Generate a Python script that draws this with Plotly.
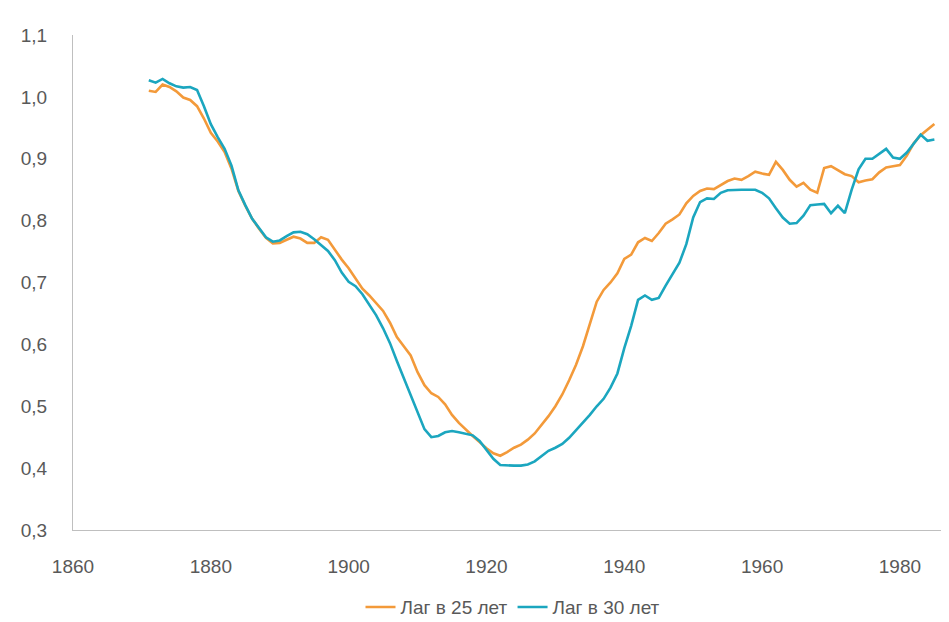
import plotly.graph_objects as go

years = list(range(1871, 1986))

lag25 = [
    1.010, 1.008, 1.020, 1.016, 1.009, 0.999, 0.995, 0.985, 0.965, 0.942,  # 1871-1880
    0.928, 0.911, 0.884, 0.848, 0.824, 0.803, 0.787, 0.772, 0.763, 0.764,  # 1881-1890
    0.769, 0.774, 0.771, 0.764, 0.764, 0.773, 0.769, 0.752, 0.737, 0.723,  # 1891-1900
    0.707, 0.690, 0.679, 0.667, 0.654, 0.635, 0.612, 0.597, 0.582, 0.555,  # 1901-1910
    0.534, 0.521, 0.515, 0.503, 0.486, 0.473, 0.462, 0.452, 0.442, 0.432,  # 1911-1920
    0.424, 0.420, 0.426, 0.433, 0.438, 0.446, 0.456, 0.470, 0.484, 0.500,  # 1921-1930
    0.519, 0.542, 0.567, 0.597, 0.632, 0.669, 0.688, 0.700, 0.715, 0.738,  # 1931-1940
    0.745, 0.765, 0.772, 0.767, 0.780, 0.795, 0.802, 0.810, 0.828, 0.840,  # 1941-1950
    0.848, 0.852, 0.851, 0.858, 0.864, 0.868, 0.866, 0.872, 0.879, 0.876,  # 1951-1960
    0.874, 0.895, 0.882, 0.866, 0.855, 0.861, 0.850, 0.845, 0.885, 0.888,  # 1961-1970
    0.882, 0.875, 0.872, 0.862, 0.865, 0.867, 0.878, 0.886, 0.888, 0.890,  # 1971-1980
    0.905, 0.925, 0.938, 0.947, 0.956,                                     # 1981-1985
]

lag30 = [
    1.027, 1.023, 1.029, 1.022, 1.017, 1.015, 1.016, 1.011, 0.985, 0.956,  # 1871-1880
    0.935, 0.916, 0.889, 0.849, 0.825, 0.803, 0.788, 0.773, 0.766, 0.768,  # 1881-1890
    0.775, 0.781, 0.782, 0.778, 0.770, 0.761, 0.751, 0.736, 0.716, 0.701,  # 1891-1900
    0.694, 0.681, 0.664, 0.647, 0.626, 0.602, 0.573, 0.546, 0.519, 0.489,  # 1901-1910
    0.463, 0.450, 0.452, 0.458, 0.460, 0.458, 0.456, 0.453, 0.444, 0.430,  # 1911-1920
    0.415, 0.405, 0.404, 0.404, 0.404, 0.406, 0.411, 0.419, 0.428, 0.433,  # 1921-1930
    0.439, 0.449, 0.461, 0.473, 0.486, 0.500, 0.512, 0.530, 0.553, 0.594,  # 1931-1940
    0.630, 0.672, 0.679, 0.672, 0.675, 0.695, 0.714, 0.732, 0.762, 0.805,  # 1941-1950
    0.830, 0.836, 0.835, 0.845, 0.849, 0.850, 0.850, 0.850, 0.850, 0.845,  # 1951-1960
    0.836, 0.820, 0.805, 0.795, 0.796, 0.808, 0.825, 0.826, 0.827, 0.812,  # 1961-1970
    0.824, 0.812, 0.850, 0.883, 0.900, 0.900, 0.908, 0.916, 0.902, 0.900,  # 1971-1980
    0.910, 0.925, 0.939, 0.929, 0.931,                                     # 1981-1985
]

series_names = ["Лаг в 25 лет", "Лаг в 30 лет"]
series_colors = ["#F39A3A", "#1BA6BF"]

x_tickvals = [1860, 1880, 1900, 1920, 1940, 1960, 1980]
y_tickvals = [0.3, 0.4, 0.5, 0.6, 0.7, 0.8, 0.9, 1.0, 1.1]
y_ticktext = ["0,3", "0,4", "0,5", "0,6", "0,7", "0,8", "0,9", "1,0", "1,1"]

fig = go.Figure()
for name, vals, col in zip(series_names, [lag25, lag30], series_colors):
    fig.add_trace(go.Scatter(x=years, y=vals, mode="lines", name=name,
                             line=dict(color=col, width=2.6)))

font_color = "#595959"
fig.update_layout(
    width=949, height=622,
    margin=dict(l=65, r=4, t=27, b=94),
    paper_bgcolor="white", plot_bgcolor="white",
    font=dict(family="Liberation Sans, Arial, sans-serif", size=19, color=font_color),
    showlegend=True,
    legend=dict(orientation="h", x=0.5, xanchor="center", y=-0.156, yanchor="middle",
                font=dict(size=19, color=font_color),
                tracegroupgap=0),
    xaxis=dict(range=[1860, 1987.7], tickvals=x_tickvals, showgrid=False,
               zeroline=False, showline=True, linecolor="#BFBFBF", linewidth=1,
               ticks="", ticklabelstandoff=19, automargin=False),
    yaxis=dict(range=[0.3, 1.1], tickvals=y_tickvals, ticktext=y_ticktext,
               showgrid=False, zeroline=False, showline=True, linecolor="#BFBFBF",
               linewidth=1, ticks="", ticklabelstandoff=21, automargin=False),
)

fig.write_html("out.html")
